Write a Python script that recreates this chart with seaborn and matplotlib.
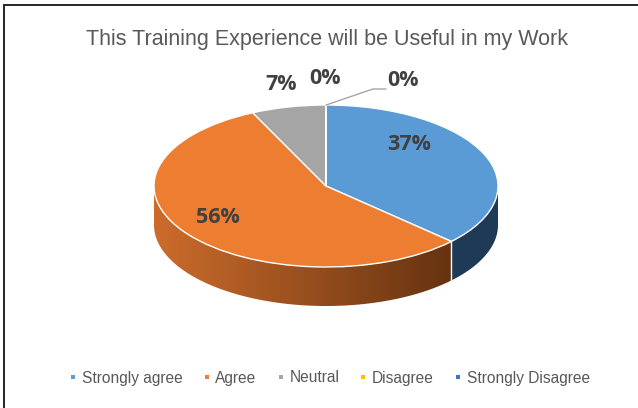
"""Excel-style 3D pie: usefulness of the training experience."""

import matplotlib

matplotlib.use("Agg")

import matplotlib.pyplot as plt
import numpy as np
import seaborn as sns
from matplotlib.colors import to_rgb
from matplotlib.lines import Line2D
from matplotlib.patches import Polygon

TITLE = "This Training Experience will be Useful in my Work"
CATEGORIES = ["Strongly agree", "Agree", "Neutral", "Disagree", "Strongly Disagree"]
PERCENTS = [37, 56, 7, 0, 0]

TOP_COLORS = ["#5B9BD5", "#ED7D31", "#A5A5A5", "#FFC000", "#4472C4"]
# side wall shades per slice: lit left side -> shaded right side
WALL_LIGHT = ["#22405F", "#CC6C2C", "#7A7A7A", "#BF9000", "#2F528F"]
WALL_DARK = ["#1E3A57", "#562A0C", "#4A4A4A", "#7F6000", "#1F3864"]

# layout in pixels, origin at top-left
W, H, DPI = 638, 408, 100
CX, CY = 326, 186  # centre of the top face
RX, RY = 172, 81  # radii of the top ellipse
DEPTH = 39  # pie thickness

LABEL_PX = [(409, 144), (218, 217), (281, 84), (325, 79), (403, 80)]
LEADER_PX = [(373, 89), (386, 89)]


def px_to_data(px, py):
    """Convert a pixel position to the squashed pie data space."""
    return (px - CX) / RX, (CY - py) / RY


def draw_walls(ax, wedges):
    """Draw the visible front rim of the pie under the top face."""
    d = DEPTH / RY
    for w, lo, hi in zip(wedges, WALL_LIGHT, WALL_DARK):
        t = np.radians(np.linspace(w.theta1, w.theta2, 400))
        t = t[np.sin(t) <= 0]
        if len(t) < 2:
            continue
        top = np.column_stack([np.cos(t), np.sin(t)])
        bottom = (top - [0, d])[::-1]
        clip = Polygon(np.vstack([top, bottom]), closed=True, facecolor="none",
                       edgecolor="none", transform=ax.transData)
        ax.add_patch(clip)

        # horizontal gradient, lit on the left and shaded to the right
        f = np.linspace(0, 1, 256)
        lo, hi = np.array(to_rgb(lo)), np.array(to_rgb(hi))
        grad = (lo + (hi - lo) * f[:, None])[None, :, :]
        im = ax.imshow(grad, extent=(-1, 1, -1 - d, 0.2), aspect="auto",
                       interpolation="bilinear", zorder=1)
        im.set_clip_path(clip)

    # thin light seams where slices meet on the rim
    for w in wedges:
        a = np.radians(w.theta1)
        if np.sin(a) < -0.05:
            x, y = np.cos(a), np.sin(a)
            ax.plot([x, x], [y, y - d], color="white", lw=1.0, zorder=2)


def main():
    sns.set_theme(style="white")
    plt.rcParams["font.family"] = ["Liberation Sans", "DejaVu Sans"]

    fig = plt.figure(figsize=(W / DPI, H / DPI), dpi=DPI)
    ax = fig.add_axes([0, 0, 1, 1])

    wedges, _, pct_texts = ax.pie(
        PERCENTS,
        colors=sns.color_palette(TOP_COLORS),
        startangle=90,
        counterclock=False,
        autopct=lambda p: f"{p:.0f}%",
        wedgeprops=dict(edgecolor="white", linewidth=1.0),
        textprops=dict(color="#404040", fontsize=15.5, fontweight="bold", family=["Open Sans", "DejaVu Sans"]),
    )
    for w in wedges:
        w.set_zorder(3)

    draw_walls(ax, wedges)

    for txt, (px, py) in zip(pct_texts, LABEL_PX):
        txt.set_position(px_to_data(px, py))
        txt.set_zorder(5)

    # leader line for the last (empty) slice
    a = np.radians(wedges[-1].theta2)
    lx = [np.cos(a)] + [px_to_data(*p)[0] for p in LEADER_PX]
    ly = [np.sin(a)] + [px_to_data(*p)[1] for p in LEADER_PX]
    ax.plot(lx, ly, color="#A6A6A6", lw=1.0, zorder=4)

    ax.set_aspect("auto")
    ax.set_xlim(-CX / RX, (W - CX) / RX)
    ax.set_ylim((CY - H) / RY, CY / RY)
    ax.axis("off")

    fig.text(327 / W, 1 - 40 / H, TITLE, ha="center", va="center", fontsize=15.5, color="#595959")

    handles = [
        Line2D([], [], marker="s", linestyle="none", markersize=2.6, markeredgewidth=0, color=c)
        for c in TOP_COLORS
    ]
    fig.legend(
        handles,
        CATEGORIES,
        loc="center",
        bbox_to_anchor=(330 / W, 1 - 378 / H),
        ncol=5,
        frameon=False,
        fontsize=11.2,
        labelcolor="#595959",
        handlelength=0.4,
        handletextpad=0.35,
        columnspacing=1.35,
    )

    # chart area border (only top and left are in frame)
    fig.add_artist(Line2D([4 / W, 4 / W], [0, 1 - 5 / H], transform=fig.transFigure, color="#262626", lw=1.4))
    fig.add_artist(Line2D([4 / W, 1], [1 - 5 / H, 1 - 5 / H], transform=fig.transFigure, color="#262626", lw=1.4))

    fig.savefig("out.png", dpi=DPI)


if __name__ == "__main__":
    main()
